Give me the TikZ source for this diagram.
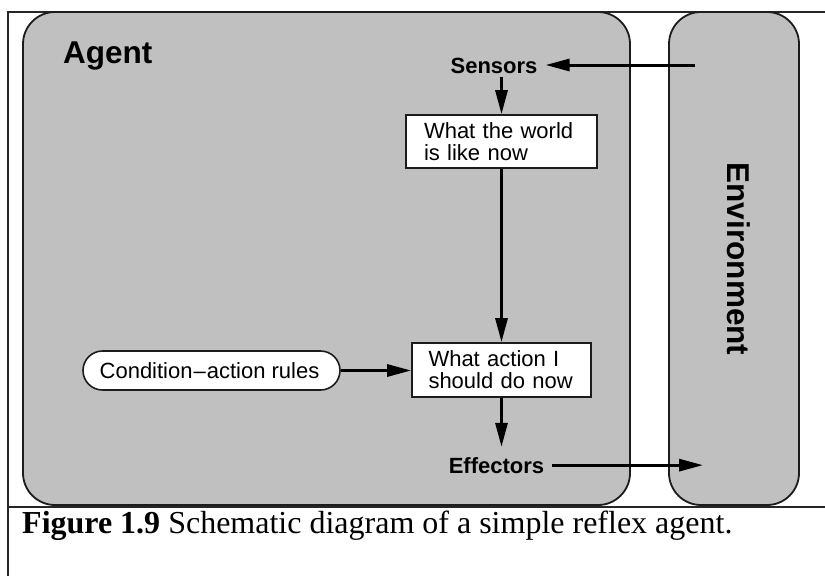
\documentclass[tikz,border=0pt]{standalone}
\usepackage{fontspec}
\setmainfont{Liberation Serif}
\newfontfamily\hv{Liberation Sans}
\usetikzlibrary{arrows.meta,calc}
\definecolor{agray}{RGB}{192,192,192}
\definecolor{edgec}{RGB}{28,28,28}
\begin{document}
\begin{tikzpicture}[x=1pt,y=-1pt,
  panel/.style={draw=edgec,fill=agray,line width=1.8pt,rounded corners=32pt},
  framel/.style={draw=black!85,line width=1.4pt},
  flow/.style={draw=black,line width=3pt,-{Triangle[length=24pt,width=12pt]}},
  textbox/.style={draw=edgec,fill=white,line width=1.6pt,font=\hv\fontsize{22}{22}\selectfont,align=left,inner ysep=0pt},
  pill/.style={draw=edgec,fill=white,line width=1.6pt,font=\hv\fontsize{22}{22}\selectfont,rounded corners=19.5pt,inner sep=0pt,minimum width=257pt,minimum height=39pt},
  lbl/.style={font=\hv\bfseries\fontsize{22}{22}\selectfont},
  biglbl/.style={font=\hv\bfseries\fontsize{31.5}{31.5}\selectfont,inner sep=0pt},
]
\useasboundingbox (0,0) rectangle (825,576);
\fill[white] (0,0) rectangle (825,576);
% frame
\coordinate (ftl) at (7,12);
\coordinate (ftr) at (825,12);
\coordinate (fbl) at (8,576);
\coordinate (fcl) at (8,507);
\coordinate (fcr) at (825,507);
\draw[framel] (ftl) -- (ftr);
\draw[framel] (ftl -| fbl) -- (fbl);
\draw[framel] (fcl) -- (fcr);
% panels
\path[panel] (23,12) rectangle (630,505);
\path[panel] (669,12) rectangle (799,505);
% labels
\node[biglbl,anchor=base west] (agent) at (63,63) {Agent};
\node[biglbl,rotate=-90] (env) at (738.5,259) {Environment};
\node[lbl,anchor=base,inner xsep=8pt,inner ysep=4pt] (sensors) at (494,73) {Sensors};
\node[lbl,anchor=base,inner xsep=8pt,inner ysep=10pt] (effectors) at (496.5,473) {Effectors};
% boxes
\node[textbox,text width=155pt,inner xsep=18pt,minimum height=53pt] (world) at (501.5,141.5) {What the world\\is like now};
\node[textbox,text width=146pt,inner xsep=16.5pt,minimum height=54pt] (action) at (501.5,370) {What action I\\should do now};
\node[pill] (rules) at (211.5,370.5) {\kern-4pt Condition\kern1pt\textendash\kern1pt action rules};
% connectors
\coordinate (envin) at (695,65);
\coordinate (envout) at (703,467);
\draw[flow] (envin) -- (sensors.east |- envin);
\draw[flow] (world.north |- sensors.south) -- (world.north);
\draw[flow] (world.south) -- (action.north);
\draw[flow] (rules.east) -- (rules.east -| action.west);
\draw[flow] (action.south) -- (action.south |- effectors.north);
\draw[flow] (effectors.east) -- (effectors.east -| envout);
% caption
\node[anchor=base west,inner sep=0pt,font=\fontsize{32}{32}\selectfont] (caption) at (22,533) {\textbf{Figure 1.9} Schematic diagram of a simple reflex agent.};
\end{tikzpicture}
\end{document}
